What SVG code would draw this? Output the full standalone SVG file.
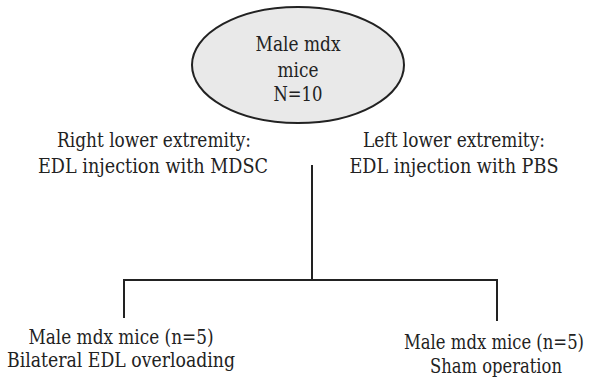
<svg xmlns="http://www.w3.org/2000/svg" width="602" height="385" viewBox="0 0 602 385">
<style>
text{font-family:'DejaVu Serif','Liberation Serif',serif;font-size:19.5px;fill:#222;text-anchor:middle}
.ln{stroke:#222;stroke-width:2;fill:none}
</style>
<rect width="602" height="385" fill="#fff"/>
<g id="root">
<ellipse cx="298" cy="65" rx="106" ry="58" fill="#e9e9e9" stroke="#222" stroke-width="2"/>
<text x="298" y="51" textLength="85" lengthAdjust="spacingAndGlyphs">Male mdx</text>
<text x="298" y="77" textLength="41" lengthAdjust="spacingAndGlyphs">mice</text>
<text x="298" y="101" textLength="49" lengthAdjust="spacingAndGlyphs">N=10</text>
</g>
<g id="right-label">
<text x="154" y="147" textLength="194" lengthAdjust="spacingAndGlyphs">Right lower extremity:</text>
<text x="153" y="173" textLength="230" lengthAdjust="spacingAndGlyphs">EDL injection with MDSC</text>
</g>
<g id="left-label">
<text x="454" y="147" textLength="182" lengthAdjust="spacingAndGlyphs">Left lower extremity:</text>
<text x="454" y="173" textLength="209" lengthAdjust="spacingAndGlyphs">EDL injection with PBS</text>
</g>
<g id="connectors">
<path class="ln" d="M312 165 V280 M124 280 H497 M124 279 V318 M497 279 V321"/>
</g>
<g id="group-overloading">
<text x="121" y="344" textLength="185" lengthAdjust="spacingAndGlyphs">Male mdx mice (n=5)</text>
<text x="121" y="367" textLength="228" lengthAdjust="spacingAndGlyphs">Bilateral EDL overloading</text>
</g>
<g id="group-sham">
<text x="494" y="349" textLength="180" lengthAdjust="spacingAndGlyphs">Male mdx mice (n=5)</text>
<text x="496" y="373" textLength="132" lengthAdjust="spacingAndGlyphs">Sham operation</text>
</g>
</svg>
